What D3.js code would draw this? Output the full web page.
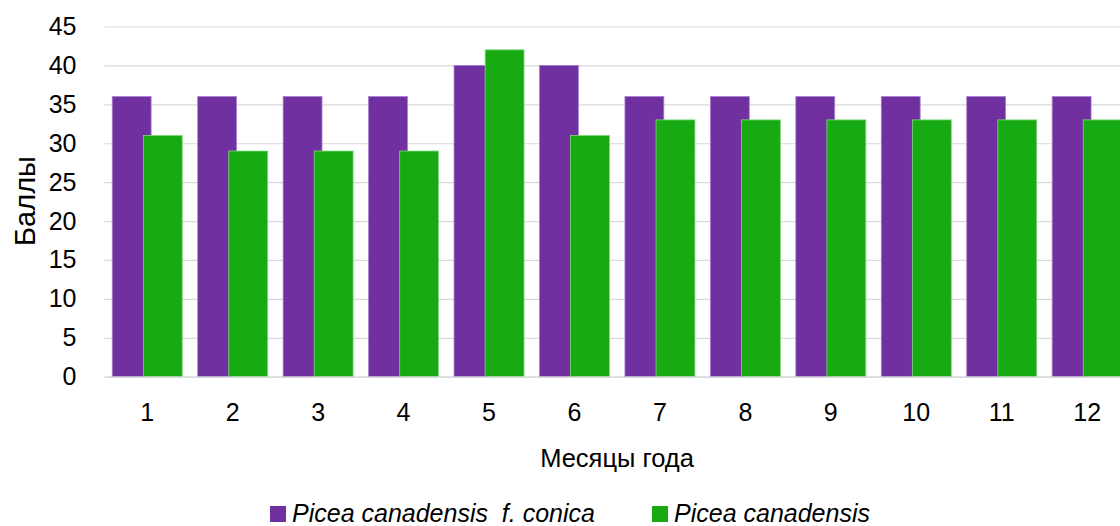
<!DOCTYPE html>
<html>
<head>
<meta charset="utf-8">
<script src="https://cdn.jsdelivr.net/npm/d3@7"></script>
<style>
  body { margin: 0; background: #fff; }
  text { font-family: "Liberation Sans", Arial, sans-serif; fill: #000; }
</style>
</head>
<body>
<div id="chart"></div>
<script>
const WIDTH = 1120;
const HEIGHT = 526;

const months = ["1", "2", "3", "4", "5", "6", "7", "8", "9", "10", "11", "12"];
const conicaValues = [36, 36, 36, 36, 40, 40, 36, 36, 36, 36, 36, 36];
const canadensisValues = [31, 29, 29, 29, 42, 31, 33, 33, 33, 33, 33, 33];
const yTicks = [0, 5, 10, 15, 20, 25, 30, 35, 40, 45];
const seriesNames = ["Picea canadensis  f. conica", "Picea canadensis"];
const colors = ["#7030a0", "#18aa12"];
const strokes = ["#a77fd0", "#7fd87b"];

const margin = {left: 104.5, top: 26.5, bottom: 149.3};
const plotWidth = 85.45 * months.length;
const plotHeight = HEIGHT - margin.top - margin.bottom;

const svg = d3.select("#chart")
    .append("svg")
    .attr("width", WIDTH)
    .attr("height", HEIGHT);

const g = svg.append("g")
    .attr("transform", "translate(" + margin.left + ", " + margin.top + ")");

const xScale = d3.scaleBand()
    .domain(months)
    .range([0, plotWidth]);

const yScale = d3.scaleLinear()
    .domain([0, 45])
    .range([plotHeight, 0]);

// grid lines
const yAxis = d3.axisLeft(yScale)
    .tickValues(yTicks)
    .tickSize(-plotWidth)
    .tickPadding(28)
    .tickFormat(d3.format("d"));

const gy = g.append("g").attr("class", "axis axis-y").call(yAxis);
gy.select(".domain").remove();
gy.selectAll("line").attr("stroke", "#d9d9d9").attr("stroke-width", 1.2);
gy.selectAll("text").style("font-size", "25px");

// bars: group ~1.8 bar widths, bars overlap by 20%
const barW = xScale.bandwidth() * 0.455;
const groupW = barW * 1.8;
const pad = (xScale.bandwidth() - groupW) / 2;

const seriesData = [conicaValues, canadensisValues];
seriesData.forEach(function (values, si) {
    g.append("g")
        .selectAll("rect")
        .data(values)
        .join("rect")
        .attr("x", (d, i) => xScale(months[i]) + pad + si * barW * 0.8)
        .attr("y", d => yScale(d))
        .attr("width", barW)
        .attr("height", d => plotHeight - yScale(d))
        .attr("fill", colors[si])
        .attr("stroke", strokes[si])
        .attr("stroke-width", 0.8);
});

// x axis
const xAxis = d3.axisBottom(xScale).tickSize(0).tickPadding(27);
const gx = g.append("g")
    .attr("class", "axis axis-x")
    .attr("transform", "translate(0," + plotHeight + ")")
    .call(xAxis);
gx.select(".domain").attr("stroke", "#d9d9d9").attr("stroke-width", 1.2);
gx.selectAll("text").style("font-size", "25px");

// axis titles
svg.append("text")
    .attr("transform", "translate(35,201) rotate(-90)")
    .attr("text-anchor", "middle")
    .style("font-size", "29px")
    .text("Баллы");

svg.append("text")
    .attr("x", 617)
    .attr("y", 467)
    .attr("text-anchor", "middle")
    .style("font-size", "25.5px")
    .text("Месяцы года");

// legend
const legendX = [270, 652];
seriesNames.forEach(function (name, i) {
    const lg = svg.append("g").attr("transform", "translate(" + legendX[i] + ",506)");
    lg.append("rect")
        .attr("width", 16)
        .attr("height", 16)
        .attr("fill", colors[i]);
    lg.append("text")
        .attr("x", 22)
        .attr("y", 16)
        .style("font-size", "25px")
        .style("font-style", "italic")
        .style("white-space", "pre")
        .attr("xml:space", "preserve")
        .text(name);
});
</script>
</body>
</html>
